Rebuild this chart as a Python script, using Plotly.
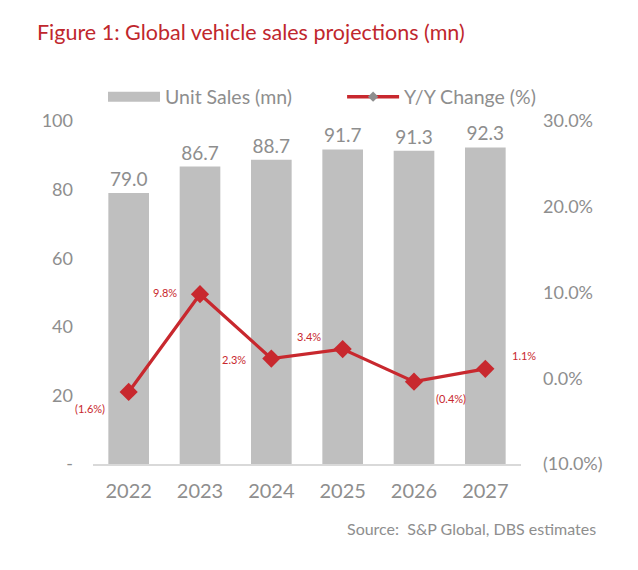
import plotly.graph_objects as go

# chart data
YEARS = ['2022', '2023', '2024', '2025', '2026', '2027']
UNIT_SALES = [79.0, 86.7, 88.7, 91.7, 91.3, 92.3]
YOY_CHANGE = [-1.6, 9.8, 2.3, 3.4, -0.4, 1.1]
YOY_LABELS = ['(1.6%)', '9.8%', '2.3%', '3.4%', '(0.4%)', '1.1%']
LEFT_TICKS = [0, 20, 40, 60, 80, 100]
LEFT_TICK_TEXT = ['-', '20', '40', '60', '80', '100']
RIGHT_TICKS = [-10, 0, 10, 20, 30]
RIGHT_TICK_TEXT = ['(10.0%)', '0.0%', '10.0%', '20.0%', '30.0%']

# pixel offsets of the Y/Y labels from their markers
LABEL_DX = [-39, -35, -37, -34, 37, 39]
LABEL_DY = [-17, 2, -1, 13, -17, 13]

RED = '#C8282E'
TITLE_RED = '#C0272D'
GREY_BAR = '#BFBFBF'
GREY_TEXT = '#8E8E8E'
FONT = 'Lato'

fig = go.Figure()

fig.add_trace(go.Bar(
    x=YEARS, y=UNIT_SALES, name='Unit Sales (mn)', showlegend=False,
    marker=dict(color=GREY_BAR, line=dict(width=0)),
    text=[f'{v:.1f}' for v in UNIT_SALES], textposition='outside',
    textfont=dict(size=19, color=GREY_TEXT, family=FONT),
    cliponaxis=False,
))

fig.add_trace(go.Scatter(
    x=YEARS, y=YOY_CHANGE, name='Y/Y Change (%)', yaxis='y2', showlegend=False,
    mode='lines+markers',
    line=dict(color=RED, width=3.2),
    marker=dict(symbol='diamond', size=14, color=RED),
    cliponaxis=False,
))

# legend keys only (no values, so they draw nothing on the plot)
fig.add_trace(go.Scatter(
    x=YEARS, y=[None] * len(YEARS), name='Unit Sales (mn)', mode='lines',
    legend='legend', line=dict(color=GREY_BAR, width=11),
))
fig.add_trace(go.Scatter(
    x=YEARS, y=[None] * len(YEARS), name='Y/Y Change (%)', mode='lines+markers',
    yaxis='y2', legend='legend2',
    line=dict(color=RED, width=3.5),
    marker=dict(symbol='diamond', size=8, color='#8E8E8E'),
))

for i, (val, lab) in enumerate(zip(YOY_CHANGE, YOY_LABELS)):
    fig.add_annotation(
        x=i, y=val, xref='x', yref='y2', text=lab, showarrow=False,
        xshift=LABEL_DX[i], yshift=LABEL_DY[i],
        font=dict(size=11, color=RED, family=FONT),
    )

legend_style = dict(
    orientation='h', y=1.07, xanchor='left', yanchor='middle',
    font=dict(size=19.5, color=GREY_TEXT, family=FONT), itemwidth=52,
    bgcolor='rgba(0,0,0,0)',
)

fig.update_layout(
    width=630, height=562,
    margin=dict(l=85, r=117, t=113, b=106),
    paper_bgcolor='white', plot_bgcolor='white',
    font=dict(family=FONT, color=GREY_TEXT, size=18),
    bargap=0.43,
    showlegend=True,
    legend=dict(x=0.0234, **legend_style),
    legend2=dict(x=0.582, **legend_style),
    xaxis=dict(
        type='category', categoryorder='array', categoryarray=YEARS,
        range=[-0.5, len(YEARS) - 0.5], autorange=False,
        showgrid=False, showline=True, linecolor='#D9D9D9', linewidth=2,
        ticks='', ticklabelstandoff=8,
        tickfont=dict(size=20, color=GREY_TEXT),
    ),
    yaxis=dict(
        range=[0, 100], tickvals=LEFT_TICKS, ticktext=LEFT_TICK_TEXT,
        showgrid=False, zeroline=False, showline=False, ticks='',
        ticklabelstandoff=19,
        tickfont=dict(size=18, color=GREY_TEXT),
    ),
    yaxis2=dict(
        range=[-10, 30], tickvals=RIGHT_TICKS, ticktext=RIGHT_TICK_TEXT,
        overlaying='y', side='right',
        showgrid=False, zeroline=False, showline=False, ticks='',
        ticklabelstandoff=21,
        tickfont=dict(size=18, color=GREY_TEXT),
    ),
    title=dict(
        text='Figure 1: Global vehicle sales projections (mn)',
        x=29 / 630, xanchor='left', y=1 - 24 / 562, yanchor='middle',
        font=dict(size=21.5, color=TITLE_RED, family=FONT),
    ),
)

fig.add_annotation(
    text='Source:  S&P Global, DBS estimates',
    xref='paper', yref='paper', x=(590 - 85) / 428, y=-(520 - 456) / 343,
    xanchor='right', yanchor='middle', showarrow=False,
    font=dict(size=16, color=GREY_TEXT, family=FONT),
)

fig.write_html('out.html')
